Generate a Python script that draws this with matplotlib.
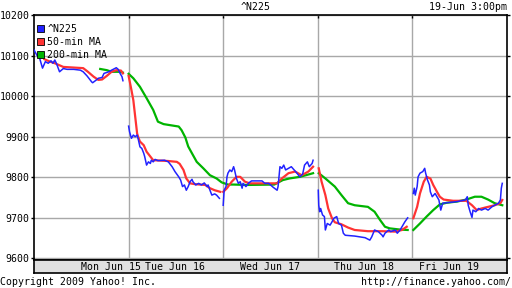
import matplotlib
matplotlib.use('Agg')
import matplotlib.pyplot as plt
from matplotlib.patches import Patch

# x is in trading days from Mon open (0 .. 5), one list per day
day_labels = ['Mon Jun 15', 'Tue Jun 16', 'Wed Jun 17', 'Thu Jun 18', 'Fri Jun 19']

n225_t = [
    [0.00, 0.03, 0.06, 0.09, 0.12, 0.15, 0.18, 0.20, 0.22, 0.24, 0.27, 0.31, 0.35, 0.42, 0.49, 0.52,
     0.56, 0.59, 0.61, 0.62, 0.66, 0.68, 0.72, 0.74, 0.79, 0.82, 0.87, 0.89, 0.91, 0.93, 0.94],
    [1.00, 1.01, 1.03, 1.05, 1.07, 1.09, 1.10, 1.12, 1.14, 1.16, 1.17, 1.19, 1.21, 1.23, 1.24, 1.26,
     1.28, 1.31, 1.38, 1.42, 1.46, 1.49, 1.53, 1.55, 1.57, 1.59, 1.61, 1.63, 1.65, 1.67, 1.68, 1.71,
     1.74, 1.77, 1.80, 1.83, 1.84, 1.86, 1.88, 1.91, 1.93, 1.96],
    [2.00, 2.01, 2.03, 2.04, 2.05, 2.07, 2.09, 2.11, 2.12, 2.14, 2.16, 2.18, 2.20, 2.21, 2.24, 2.27,
     2.30, 2.41, 2.44, 2.48, 2.53, 2.57, 2.58, 2.60, 2.62, 2.64, 2.66, 2.69, 2.72, 2.75, 2.78, 2.81,
     2.84, 2.86, 2.89, 2.91, 2.94, 2.95],
    [3.005, 3.01, 3.02, 3.03, 3.05, 3.07, 3.08, 3.10, 3.13, 3.15, 3.17, 3.20, 3.22, 3.25, 3.27, 3.29,
     3.39, 3.50, 3.55, 3.57, 3.60, 3.64, 3.68, 3.69, 3.71, 3.75, 3.77, 3.82, 3.84, 3.87, 3.89, 3.92, 3.95],
    [4.01, 4.02, 4.03, 4.05, 4.06, 4.08, 4.11, 4.13, 4.14, 4.16, 4.18, 4.19, 4.21, 4.24, 4.26, 4.28,
     4.30, 4.32, 4.36, 4.47, 4.56, 4.58, 4.59, 4.61, 4.63, 4.64, 4.67, 4.70, 4.73, 4.77, 4.80, 4.84,
     4.87, 4.91, 4.93, 4.94, 4.95],
]
n225_v = [
    [10114, 10101, 10093, 10069, 10085, 10081, 10087, 10081, 10089, 10079, 10060, 10068, 10066, 10066,
     10064, 10060, 10050, 10041, 10035, 10033, 10040, 10044, 10046, 10056, 10060, 10064, 10070, 10066,
     10056, 10048, 10038],
    [9926, 9912, 9896, 9904, 9900, 9904, 9896, 9875, 9871, 9859, 9851, 9830, 9838, 9834, 9842, 9838,
     9844, 9841, 9842, 9838, 9826, 9814, 9801, 9793, 9777, 9781, 9768, 9777, 9789, 9795, 9789, 9781,
     9785, 9781, 9786, 9777, 9781, 9768, 9756, 9759, 9756, 9748],
    [9731, 9768, 9777, 9801, 9810, 9818, 9814, 9826, 9818, 9797, 9785, 9789, 9773, 9785, 9777, 9786,
     9791, 9791, 9785, 9785, 9775, 9768, 9777, 9826, 9822, 9830, 9818, 9822, 9826, 9818, 9810, 9801,
     9808, 9830, 9838, 9826, 9834, 9842],
    [9768, 9731, 9715, 9723, 9707, 9703, 9670, 9686, 9682, 9690, 9699, 9703, 9686, 9682, 9662, 9657,
     9655, 9651, 9645, 9653, 9670, 9666, 9657, 9653, 9662, 9670, 9666, 9670, 9662, 9670, 9678, 9690, 9700],
    [9760, 9773, 9756, 9777, 9801, 9810, 9814, 9822, 9810, 9793, 9781, 9764, 9752, 9760, 9752, 9744,
     9719, 9736, 9737, 9740, 9744, 9752, 9731, 9715, 9701, 9719, 9715, 9723, 9719, 9723, 9719, 9727,
     9731, 9736, 9744, 9773, 9785],
]

ma50_t = [
    [0.11, 0.17, 0.22, 0.31, 0.45, 0.52, 0.57, 0.63, 0.68, 0.72, 0.77, 0.82, 0.87, 0.92, 0.94],
    [1.00, 1.03, 1.05, 1.07, 1.09, 1.10, 1.12, 1.16, 1.19, 1.23, 1.26, 1.42, 1.51, 1.54, 1.58, 1.61,
     1.65, 1.70, 1.81, 1.86, 1.91, 1.97],
    [2.00, 2.04, 2.09, 2.14, 2.18, 2.23, 2.28, 2.46, 2.57, 2.62, 2.69, 2.76, 2.83, 2.90, 2.95],
    [3.01, 3.04, 3.08, 3.11, 3.15, 3.18, 3.25, 3.32, 3.39, 3.53, 3.68, 3.82, 3.89, 3.94],
    [4.01, 4.05, 4.08, 4.12, 4.15, 4.19, 4.22, 4.26, 4.29, 4.33, 4.43, 4.57, 4.63, 4.68, 4.73, 4.80,
     4.87, 4.93, 4.95],
]
ma50_v = [
    [10091, 10085, 10081, 10072, 10070, 10069, 10060, 10048, 10040, 10041, 10050, 10060, 10064, 10063, 10056],
    [10050, 10015, 9990, 9949, 9908, 9900, 9888, 9879, 9863, 9851, 9842, 9840, 9838, 9833, 9818, 9797,
     9785, 9783, 9781, 9773, 9768, 9764],
    [9764, 9773, 9789, 9801, 9801, 9789, 9785, 9785, 9785, 9797, 9810, 9814, 9805, 9814, 9826],
    [9822, 9789, 9756, 9723, 9699, 9689, 9684, 9676, 9670, 9667, 9667, 9666, 9670, 9678],
    [9699, 9727, 9760, 9789, 9801, 9797, 9781, 9764, 9752, 9745, 9742, 9742, 9731, 9719, 9723, 9727,
     9731, 9736, 9744],
]

ma200_t = [
    [0.70, 0.77, 0.82, 0.91, 0.94],
    [1.00, 1.05, 1.12, 1.19, 1.26, 1.31, 1.37, 1.53, 1.56, 1.60, 1.63, 1.67, 1.72, 1.79, 1.86, 1.93, 1.98],
    [2.00, 2.05, 2.11, 2.25, 2.54, 2.63, 2.70, 2.81, 2.92, 2.95],
    [3.01, 3.08, 3.18, 3.25, 3.32, 3.39, 3.53, 3.60, 3.66, 3.71, 3.76, 3.87, 3.95],
    [4.01, 4.08, 4.15, 4.22, 4.29, 4.36, 4.47, 4.57, 4.66, 4.73, 4.80, 4.87, 4.95],
]
ma200_v = [
    [10067, 10064, 10060, 10060, 10058],
    [10055, 10044, 10023, 9995, 9966, 9937, 9931, 9925, 9916, 9898, 9876, 9859, 9838, 9822, 9805, 9797, 9788],
    [9786, 9782, 9782, 9781, 9782, 9793, 9797, 9801, 9808, 9810],
    [9810, 9797, 9777, 9756, 9736, 9731, 9727, 9715, 9694, 9678, 9674, 9671, 9670],
    [9670, 9686, 9703, 9719, 9733, 9737, 9740, 9745, 9752, 9752, 9745, 9736, 9731],
]

yticks = [9600, 9700, 9800, 9900, 10000, 10100, 10200]

blue = '#2222ff'
red = '#ff3333'
green = '#00b400'
font = 'DejaVu Sans Mono'
fs = 7.1

fig = plt.figure(figsize=(5.12, 2.88), dpi=100)
W, H = 512, 288
ax = fig.add_axes([34 / W, (H - 260) / H, 473 / W, 245 / H])
band = fig.add_axes([34 / W, (H - 273) / H, 473 / W, 13 / H])

ax.set_xlim(0, 5)
ax.set_ylim(9596, 10200)

for i in range(5):
    ax.plot(ma200_t[i], ma200_v[i], color=green, lw=1.6, zorder=3)
    ax.plot(ma50_t[i], ma50_v[i], color=red, lw=1.6, zorder=4)
    ax.plot(n225_t[i], n225_v[i], color=blue, lw=1.1, zorder=5)

ax.set_xticks([1, 2, 3, 4])
ax.set_xticklabels([])
ax.set_yticks(yticks)
ax.set_yticklabels([str(v) for v in yticks], fontsize=fs, family=font)
ax.grid(True, color='#a8a8a8', lw=1.0)
ax.set_axisbelow(True)
ax.tick_params(axis='y', direction='out', length=2, width=1, pad=1, right=True)
ax.tick_params(axis='x', direction='in', length=2, width=1, top=True, bottom=False)
for s in ax.spines.values():
    s.set_linewidth(1.2)

handles = [Patch(facecolor=blue, edgecolor='black', lw=0.6),
           Patch(facecolor=red, edgecolor='black', lw=0.6),
           Patch(facecolor=green, edgecolor='black', lw=0.6)]
ax.legend(handles, ['^N225', '50-min MA', '200-min MA'], loc='upper left', frameon=False,
          prop={'family': font, 'size': fs}, handlelength=0.75, handleheight=0.75,
          handletextpad=0.3, labelspacing=0.28, borderaxespad=0.1, borderpad=0.2,
          bbox_to_anchor=(0.0, 0.975))

# day labels in the grey band underneath
band.set_facecolor('#e0e0e0')
band.set_xlim(0, 5)
band.set_ylim(0, 1)
band.set_xticks([])
band.set_yticks([])
for s in band.spines.values():
    s.set_linewidth(1.2)
label_x = [0.81, 1.49, 2.49, 3.49, 4.39]
for x, lab in zip(label_x, day_labels):
    band.text(x, 0.45, lab, ha='center', va='center', fontsize=fs, family=font)

fig.text(256 / W, 1 - 7 / H, '^N225', ha='center', va='center', fontsize=fs, family=font)
fig.text(507 / W, 1 - 7 / H, '19-Jun 3:00pm', ha='right', va='center', fontsize=fs, family=font)
fig.text(0, 1 - 282 / H, 'Copyright 2009 Yahoo! Inc.', ha='left', va='center', fontsize=fs, family=font)
fig.text(511 / W, 1 - 282 / H, 'http://finance.yahoo.com/', ha='right', va='center', fontsize=fs, family=font)

fig.savefig('out.png', dpi=100)
